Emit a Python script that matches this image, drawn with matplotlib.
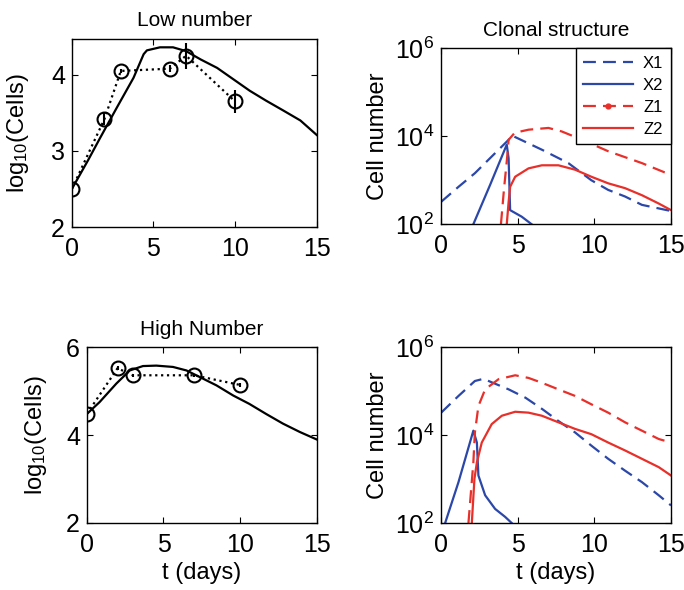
import matplotlib.pyplot as plt
from matplotlib.lines import Line2D

plt.rcParams['font.family'] = ['Liberation Sans', 'DejaVu Sans']
plt.rcParams['mathtext.default'] = 'regular'

# --- donnees "Low number" ---
low_t = [0, 2, 3, 6, 7, 10]
low_y = [2.5, 3.42, 4.05, 4.08, 4.25, 3.65]
low_err = [0.03, 0.08, 0.03, 0.05, 0.17, 0.15]
low_mt = [0, 1, 1.73, 2.76, 3.78, 4.4, 4.6, 5.4, 6.2, 7, 7.9, 8.9, 9.9, 10.9, 11.9, 12.96, 14, 15]
low_my = [2.5, 2.88, 3.17, 3.57, 3.96, 4.27, 4.32, 4.36, 4.36, 4.31, 4.2, 4.09, 3.94, 3.79, 3.66, 3.53, 3.4, 3.21]

# --- donnees "High Number" ---
high_t = [0, 2, 3, 7, 10]
high_y = [4.48, 5.52, 5.36, 5.36, 5.14]
high_err = [0.04, 0.04, 0.04, 0.04, 0.04]
high_mt = [0, 0.83, 1.92, 2.8, 3.66, 4.53, 5.62, 6.5, 7.37, 8.46, 9.55, 10.6, 11.7, 12.8, 13.9, 15]
high_my = [4.48, 4.75, 5.17, 5.47, 5.57, 5.58, 5.55, 5.47, 5.32, 5.13, 4.9, 4.71, 4.48, 4.26, 4.07, 3.9]

# --- structure clonale (haut), log10 ---
a_x1_t = [0, 1.13, 2.2, 3.3, 4.4, 4.6, 6.6, 8.3, 9.8, 10.9, 12, 13.1, 15]
a_x1_y = [2.51, 2.85, 3.16, 3.54, 3.92, 4.02, 3.69, 3.39, 3.0, 2.78, 2.63, 2.44, 2.3]
a_x2_t = [2.1, 3.2, 4.28, 4.4, 4.5, 5.26, 5.9]
a_x2_y = [2.0, 2.9, 3.81, 3.5, 2.32, 2.17, 2.0]
a_z1_t = [3.9, 4.1, 4.3, 4.4, 4.8, 5.7, 7.0, 7.87, 9.2, 10.9, 13.1, 15]
a_z1_y = [2.0, 2.8, 3.5, 3.92, 4.08, 4.15, 4.19, 4.11, 3.92, 3.66, 3.39, 3.12]
a_z2_t = [4.28, 4.4, 4.5, 4.83, 5.7, 6.57, 7.65, 8.74, 9.8, 10.9, 12, 13.1, 14.2, 15]
a_z2_y = [2.0, 2.5, 2.85, 3.08, 3.27, 3.34, 3.34, 3.24, 3.08, 2.93, 2.82, 2.66, 2.47, 2.32]

# --- structure clonale (bas), log10 ---
b_x1_t = [0, 1.13, 2.2, 2.76, 3.3, 4.4, 5.5, 6.6, 7.65, 8.74, 9.8, 10.9, 12, 13.1, 14.2, 15]
b_x1_y = [4.51, 4.89, 5.23, 5.28, 5.2, 5.04, 4.85, 4.59, 4.32, 4.06, 3.76, 3.46, 3.19, 2.93, 2.63, 2.4]
b_x2_t = [0.26, 1.13, 2.1, 2.33, 2.43, 2.87, 3.52, 4.17, 4.6]
b_x2_y = [2.0, 2.93, 4.1, 3.83, 3.08, 2.63, 2.32, 2.14, 2.0]
b_z1_t = [1.78, 2.1, 2.2, 2.43, 2.87, 3.74, 4.83, 5.7, 6.57, 7.65, 8.74, 9.8, 10.9, 12, 13.1, 14.2, 15]
b_z1_y = [2.0, 3.38, 4.06, 4.66, 5.04, 5.27, 5.36, 5.3, 5.19, 5.04, 4.89, 4.7, 4.51, 4.29, 4.1, 3.91, 3.83]
b_z2_t = [2.0, 2.17, 2.33, 2.65, 3.3, 3.96, 4.83, 5.7, 6.57, 7.65, 8.74, 9.8, 10.9, 12, 13.1, 14.2, 15]
b_z2_y = [2.0, 3.0, 3.38, 3.83, 4.25, 4.44, 4.53, 4.51, 4.44, 4.29, 4.14, 4.02, 3.83, 3.65, 3.46, 3.27, 3.08]

bleu = '#2b47a8'
rouge = '#e8302a'
lw = 1.6
tirets = (5.8, 3.2)

fig = plt.figure(figsize=(6.84, 5.9), dpi=100)
ax1 = fig.add_axes([0.105, 0.615, 0.358, 0.319])
ax2 = fig.add_axes([0.645, 0.620, 0.336, 0.298])
ax3 = fig.add_axes([0.127, 0.1136, 0.336, 0.298])
ax4 = fig.add_axes([0.645, 0.1136, 0.336, 0.298])

def style(ax):
    ax.tick_params(direction='in', top=True, right=True, labelsize=18, length=4, width=0.8)
    ax.tick_params(axis='x', pad=7)
    ax.tick_params(axis='y', pad=5)
    ax.tick_params(which='minor', length=0)
    for s in ax.spines.values():
        s.set_linewidth(1.0)

# schema low number
ax1.plot(low_mt, low_my, color='k', lw=lw)
ax1.plot(low_t, low_y, color='k', ls=':', lw=lw)
ax1.errorbar(low_t, low_y, yerr=low_err, fmt='o', mfc='none', mec='k', ecolor='k',
             ms=10, mew=1.5, elinewidth=1.5, capsize=0)
ax1.set_xlim(0, 15)
ax1.set_ylim(2, 4.47)
ax1.set_xticks([0, 5, 10, 15])
ax1.set_yticks([2, 3, 4])
ax1.set_title('Low number', fontsize=15, pad=9)
ax1.set_ylabel('log$_{10}$(Cells)', fontsize=17, labelpad=14)
style(ax1)

# schema high number
ax3.plot(high_mt, high_my, color='k', lw=lw)
ax3.plot(high_t, high_y, color='k', ls=':', lw=lw)
ax3.errorbar(high_t, high_y, yerr=high_err, fmt='o', mfc='none', mec='k', ecolor='k',
             ms=10, mew=1.5, elinewidth=1.5, capsize=0)
ax3.set_xlim(0, 15)
ax3.set_ylim(2, 6)
ax3.set_xticks([0, 5, 10, 15])
ax3.set_yticks([2, 4, 6])
ax3.set_title('High Number', fontsize=15, pad=9)
ax3.set_ylabel('log$_{10}$(Cells)', fontsize=17, labelpad=12)
ax3.set_xlabel('t (days)', fontsize=17, labelpad=4)
style(ax3)

# schemas clonaux
for ax, d in [(ax2, (a_x1_t, a_x1_y, a_x2_t, a_x2_y, a_z1_t, a_z1_y, a_z2_t, a_z2_y)),
              (ax4, (b_x1_t, b_x1_y, b_x2_t, b_x2_y, b_z1_t, b_z1_y, b_z2_t, b_z2_y))]:
    ax.plot(d[0], [10 ** v for v in d[1]], color=bleu, ls='--', lw=lw, dashes=tirets)
    ax.plot(d[2], [10 ** v for v in d[3]], color=bleu, lw=lw)
    ax.plot(d[4], [10 ** v for v in d[5]], color=rouge, ls='--', lw=lw, dashes=tirets)
    ax.plot(d[6], [10 ** v for v in d[7]], color=rouge, lw=lw)
    ax.set_yscale('log')
    ax.set_xlim(0, 15)
    ax.set_ylim(1e2, 1e6)
    ax.set_xticks([0, 5, 10, 15])
    ax.set_yticks([1e2, 1e4, 1e6])
    ax.set_yticklabels(['10$^2$', '10$^4$', '10$^6$'])
    ax.set_ylabel('Cell number', fontsize=17, labelpad=4)
    style(ax)

ax2.set_title('Clonal structure', fontsize=15, pad=9)
ax4.set_xlabel('t (days)', fontsize=17, labelpad=4)

handles = [Line2D([], [], color=bleu, ls='--', lw=lw, dashes=tirets),
           Line2D([], [], color=bleu, lw=lw),
           Line2D([], [], color=rouge, ls='--', lw=lw, dashes=tirets, marker='.', markevery=[1], ms=7),
           Line2D([], [], color=rouge, lw=lw)]
leg = ax2.legend(handles, ['X1', 'X2', 'Z1', 'Z2'], loc='upper right', fontsize=12,
                 handlelength=3.0, labelspacing=0.42, borderaxespad=0, fancybox=False,
                 framealpha=1, edgecolor='k', borderpad=0.45, handletextpad=0.6)
leg.get_frame().set_linewidth(1.0)

fig.savefig('out.png', dpi=100)
